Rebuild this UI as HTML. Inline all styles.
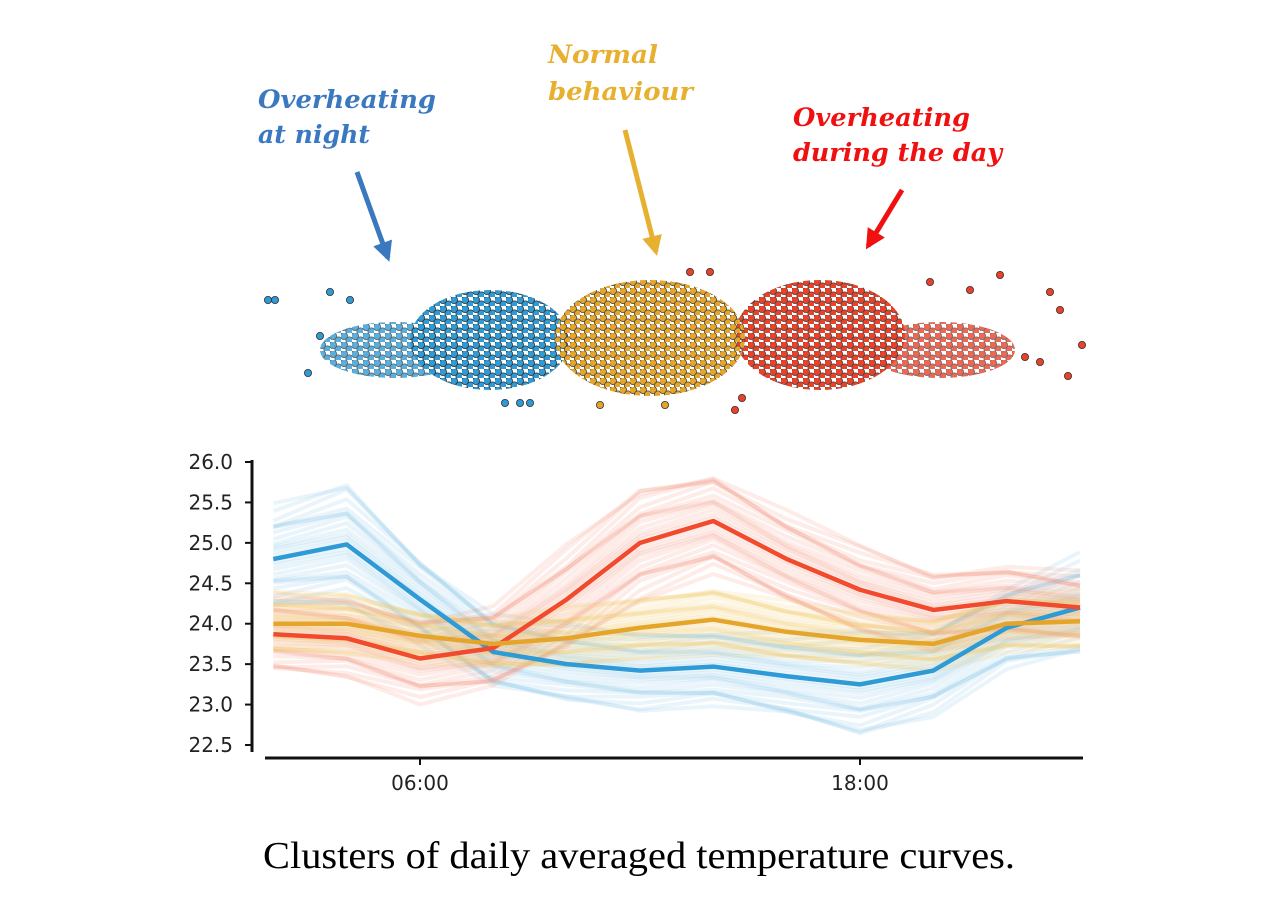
<!DOCTYPE html>
<html><head><meta charset="utf-8"><style>
body{margin:0;background:#fff;width:1269px;height:915px;overflow:hidden}
svg{display:block}
.ann{font-family:"DejaVu Serif","Liberation Serif",serif;font-weight:bold;font-style:italic;font-size:25px}
.tick{font-family:"DejaVu Sans","Liberation Sans",sans-serif;font-size:20px;fill:#222}
</style></head><body>
<svg id="chart" width="1269" height="915">
<defs>
<pattern id="pb" width="11" height="9" patternUnits="userSpaceOnUse"><circle cx="3" cy="3" r="3.6" fill="#2e9bd6" stroke="#333" stroke-width="0.8"/><circle cx="8.5" cy="7.5" r="3.6" fill="#2e9bd6" stroke="#333" stroke-width="0.8"/></pattern>
<pattern id="po" width="10" height="9" patternUnits="userSpaceOnUse"><circle cx="3" cy="3" r="3.6" fill="#e5a52a" stroke="#444" stroke-width="0.8"/><circle cx="8" cy="7.5" r="3.6" fill="#e5a52a" stroke="#444" stroke-width="0.8"/></pattern>
<pattern id="pr" width="11" height="9" patternUnits="userSpaceOnUse"><circle cx="3" cy="3" r="3.6" fill="#ea4128" stroke="#444" stroke-width="0.8"/><circle cx="8.5" cy="7.5" r="3.6" fill="#ea4128" stroke="#444" stroke-width="0.8"/></pattern>
<marker id="ab" viewBox="0 0 10 10" refX="8" refY="5" markerWidth="4" markerHeight="4" orient="auto"><path d="M0,0L10,5L0,10z" fill="#3a78c0"/></marker>
<marker id="ao" viewBox="0 0 10 10" refX="8" refY="5" markerWidth="4" markerHeight="4" orient="auto"><path d="M0,0L10,5L0,10z" fill="#e8b030"/></marker>
<marker id="ar" viewBox="0 0 10 10" refX="8" refY="5" markerWidth="4" markerHeight="4" orient="auto"><path d="M0,0L10,5L0,10z" fill="#f01010"/></marker>
</defs>
<text class="ann" x="258" y="108" textLength="178" lengthAdjust="spacingAndGlyphs" fill="#3a78c0">Overheating</text>
<text class="ann" x="258" y="143" textLength="112" lengthAdjust="spacingAndGlyphs" fill="#3a78c0">at night</text>
<text class="ann" x="548" y="63" textLength="110" lengthAdjust="spacingAndGlyphs" fill="#e8b030">Normal</text>
<text class="ann" x="548" y="100" textLength="145" lengthAdjust="spacingAndGlyphs" fill="#e8b030">behaviour</text>
<text class="ann" x="793" y="126" textLength="177" lengthAdjust="spacingAndGlyphs" fill="#f01010">Overheating</text>
<text class="ann" x="793" y="161" textLength="209" lengthAdjust="spacingAndGlyphs" fill="#f01010">during the day</text>
<line x1="357" y1="172" x2="388" y2="258" stroke="#3a78c0" stroke-width="5" marker-end="url(#ab)"/>
<line x1="625" y1="130" x2="656" y2="252" stroke="#e8b030" stroke-width="5" marker-end="url(#ao)"/>
<line x1="902" y1="190" x2="868" y2="246" stroke="#f01010" stroke-width="5" marker-end="url(#ar)"/>
<g>
<ellipse cx="395" cy="350" rx="75" ry="28" fill="url(#pb)" opacity="0.8"/>
<ellipse cx="490" cy="340" rx="80" ry="50" fill="url(#pb)"/>
<ellipse cx="940" cy="350" rx="75" ry="28" fill="url(#pr)" opacity="0.8"/>
<ellipse cx="820" cy="335" rx="85" ry="55" fill="url(#pr)"/>
<ellipse cx="650" cy="338" rx="95" ry="58" fill="url(#po)"/>
<g id="outliers"></g>
</g>
<g id="plot"></g>
<line x1="252" y1="460" x2="252" y2="752" stroke="#111" stroke-width="3"/>
<line x1="265" y1="758" x2="1083" y2="758" stroke="#111" stroke-width="3"/>
<g id="ticks"></g>
<text x="263" y="868" textLength="752" lengthAdjust="spacingAndGlyphs" font-family="Liberation Serif,serif" font-size="38" fill="#000">Clusters of daily averaged temperature curves.</text>
</svg>
<script>
const hours=[2,4,6,8,10,12,14,16,18,20,22,24];
const blueMean=[24.8,24.98,24.3,23.65,23.5,23.42,23.47,23.35,23.25,23.42,23.95,24.2];
const orangeMean=[24.0,24.0,23.85,23.75,23.82,23.95,24.05,23.9,23.8,23.75,24.0,24.03];
const redMean=[23.87,23.82,23.57,23.7,24.3,25.0,25.27,24.8,24.42,24.17,24.28,24.2];
const blueSpread=[0.6,0.7,0.5,0.45,0.45,0.45,0.45,0.5,0.6,0.5,0.5,0.6];
const orangeSpread=[0.35,0.35,0.3,0.3,0.35,0.35,0.4,0.35,0.3,0.3,0.35,0.35];
const redSpread=[0.45,0.45,0.5,0.5,0.6,0.65,0.6,0.55,0.5,0.45,0.45,0.4];
const yTicks=[22.5,23.0,23.5,24.0,24.5,25.0,25.5,26.0];
const xTickHours=[6,18];
const xTickLabels=["06:00","18:00"];
const outlierX=[268,330,350,308,320,735,742,1000,1050,1060,1082,1068,970,1025,1040,520,530,505,690,710,930,600,665,275];
const outlierY=[300,292,300,373,336,410,398,275,292,310,345,376,290,357,362,403,403,403,272,272,282,405,405,300];
const outlierC=["#2e9bd6","#2e9bd6","#2e9bd6","#2e9bd6","#2e9bd6","#ea4128","#ea4128","#ea4128","#ea4128","#ea4128","#ea4128","#ea4128","#ea4128","#ea4128","#ea4128","#2e9bd6","#2e9bd6","#2e9bd6","#ea4128","#ea4128","#ea4128","#e5a52a","#e5a52a","#2e9bd6"];
const NS="http://www.w3.org/2000/svg";
const X=h=>420+(h-6)*36.667;
const Y=v=>745-(v-22.5)*(283/3.5);
const plot=document.getElementById('plot');
function pl(vals,color,w,op){
 const p=document.createElementNS(NS,'polyline');
 p.setAttribute('points',vals.map((v,i)=>X(hours[i])+','+Y(v)).join(' '));
 p.setAttribute('fill','none');p.setAttribute('stroke',color);
 p.setAttribute('stroke-width',w);p.setAttribute('opacity',op);
 p.setAttribute('stroke-linejoin','round');
 return p;
}
const clusters=[[blueMean,blueSpread,'#7cc3e8','#2e9bd6','blue'],[redMean,redSpread,'#f58a70','#f24a2c','red'],[orangeMean,orangeSpread,'#f0c860','#e5a52a','orange']];
clusters.forEach(([m,s,fc,mc,n])=>{
 for(let k=-14;k<=14;k++){
  const f=k/14;
  const vals=m.map((v,i)=>v+s[i]*f*(1+0.15*Math.sin(i*1.7+k)));
  const p=pl(vals,fc,4,0.16);
  
  
  plot.appendChild(p);
 }
});
clusters.forEach(([m,s,fc,mc,n])=>{
 const p=pl(m,mc,4.5,1);
 
 
 plot.appendChild(p);
});
const tg=document.getElementById('ticks');
yTicks.forEach(v=>{
 const l=document.createElementNS(NS,'line');
 l.setAttribute('x1',245);l.setAttribute('x2',252);l.setAttribute('y1',Y(v));l.setAttribute('y2',Y(v));l.setAttribute('stroke','#111');l.setAttribute('stroke-width',2);
 
 
 tg.appendChild(l);
 const t=document.createElementNS(NS,'text');
 t.setAttribute('x',233);t.setAttribute('y',Y(v)+7);t.setAttribute('text-anchor','end');t.setAttribute('class','tick');
 t.textContent=v.toFixed(1);
 
 
 tg.appendChild(t);
});
xTickHours.forEach((h,i)=>{
 const l=document.createElementNS(NS,'line');
 l.setAttribute('x1',X(h));l.setAttribute('x2',X(h));l.setAttribute('y1',758);l.setAttribute('y2',765);l.setAttribute('stroke','#111');l.setAttribute('stroke-width',2);
 
 
 tg.appendChild(l);
 const t=document.createElementNS(NS,'text');
 t.setAttribute('x',X(h));t.setAttribute('y',790);t.setAttribute('text-anchor','middle');t.setAttribute('class','tick');
 t.textContent=xTickLabels[i];
 
 
 tg.appendChild(t);
});
const og=document.getElementById('outliers');
outlierX.forEach((x,i)=>{
 const c=document.createElementNS(NS,'circle');
 c.setAttribute('cx',x);c.setAttribute('cy',outlierY[i]);c.setAttribute('r',3.6);c.setAttribute('fill',outlierC[i]);c.setAttribute('stroke','#333');c.setAttribute('stroke-width',0.8);
 
 
 og.appendChild(c);
});
</script>
</body></html>
